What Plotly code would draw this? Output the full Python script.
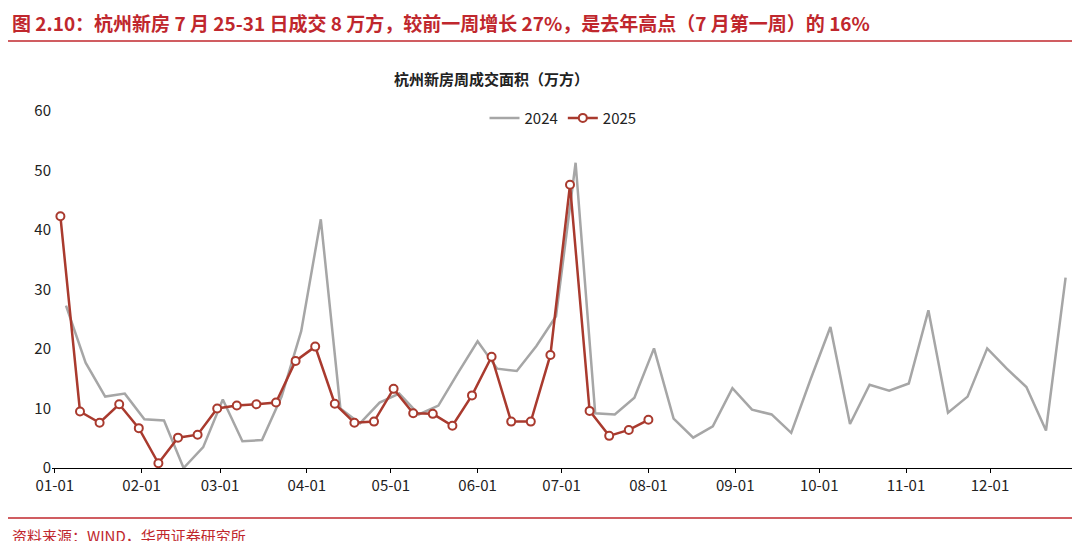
import pandas as pd
import plotly.graph_objects as go

# 2024 weekly values (plotted on a common Jan-Dec axis)
dates_2024 = pd.date_range("2025-01-05", periods=52, freq="7D")
vals_2024 = [27.3, 17.7, 12.0, 12.5, 8.2, 8.0, 0.0, 3.5, 11.5, 4.5, 4.7, 12.0, 23.0, 41.8,
             10.0, 7.5, 11.0, 12.5, 9.0, 10.5, 16.0, 21.3, 16.7, 16.3, 20.5, 25.5, 51.3,
             9.2, 9.0, 11.8, 20.1, 8.3, 5.1, 7.0, 13.4, 9.8, 9.0, 5.9, 15.0, 23.7, 7.4,
             14.0, 13.0, 14.2, 26.5, 9.3, 12.0, 20.1, 16.7, 13.6, 6.3, 32.0]

dates_2025 = pd.date_range("2025-01-03", periods=31, freq="7D")
vals_2025 = [42.3, 9.5, 7.6, 10.7, 6.7, 0.8, 5.1, 5.6, 10.0, 10.5, 10.7, 11.0, 18.0, 20.4,
             10.8, 7.6, 7.8, 13.3, 9.2, 9.1, 7.1, 12.2, 18.7, 7.8, 7.8, 19.0, 47.6, 9.6,
             5.4, 6.4, 8.1]

tick_vals = pd.date_range("2025-01-01", periods=12, freq="MS")
tick_text = [d.strftime("%m-%d") for d in tick_vals]

font = "Noto Sans CJK SC"
fig = go.Figure()
fig.add_trace(go.Scatter(x=dates_2024, y=vals_2024, mode="lines", name="2024",
                         line=dict(color="#a6a6a6", width=2.5)))
fig.add_trace(go.Scatter(x=dates_2025, y=vals_2025, mode="lines+markers", name="2025",
                         line=dict(color="#a93a2e", width=2.5),
                         marker=dict(size=8, color="white", line=dict(color="#a93a2e", width=2))))

fig.update_layout(
    width=1080, height=541, plot_bgcolor="white", paper_bgcolor="white",
    font=dict(family=font, size=15, color="#222"),
    margin=dict(l=44, r=14, t=103, b=81),
    legend=dict(orientation="h", x=0.5, xanchor="center", y=0.98, yanchor="middle",
                font=dict(size=15)),
    xaxis=dict(range=["2024-12-31", "2025-12-31"], tickvals=tick_vals, ticktext=tick_text,
               showgrid=False, showline=True, linecolor="black", ticks="outside",
               ticklen=4, tickcolor="black"),
    yaxis=dict(range=[0, 60], dtick=10, showgrid=False, showline=False, ticks=""),
    annotations=[
        dict(text="<b>图 2.10：杭州新房 7 月 25-31 日成交 8 万方，较前一周增长 27%，是去年高点（7 月第一周）的 16%</b>",
             xref="paper", yref="paper", x=-0.041, y=1.249, xanchor="left", yanchor="middle",
             showarrow=False, font=dict(size=19, color="#c0272d")),
        dict(text="<b>杭州新房周成交面积（万方）</b>", xref="paper", yref="paper", x=0.43, y=1.092,
             yanchor="middle", showarrow=False, font=dict(size=15)),
        dict(text="资料来源：WIND，华西证券研究所", xref="paper", yref="paper", x=-0.041, y=-0.188,
             xanchor="left", yanchor="middle", showarrow=False, font=dict(size=15, color="#c0272d")),
    ],
    shapes=[
        dict(type="line", xref="paper", yref="paper", x0=-0.05, x1=1.02, y0=1.196, y1=1.196,
             line=dict(color="#c0272d", width=1.5)),
        dict(type="line", xref="paper", yref="paper", x0=-0.05, x1=1.02, y0=-0.14, y1=-0.14,
             line=dict(color="#c0272d", width=1.5)),
    ],
)
fig.write_html("out.html")
